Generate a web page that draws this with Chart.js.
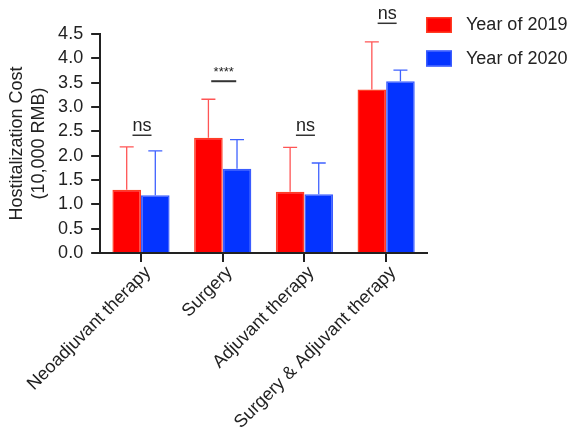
<!DOCTYPE html>
<html>
<head>
<meta charset="utf-8">
<script src="https://cdn.jsdelivr.net/npm/chart.js@4/dist/chart.umd.min.js"></script>
<style>
  html, body { margin: 0; padding: 0; background: #ffffff; }
  #wrap { width: 571px; height: 433px; }
</style>
</head>
<body>
<div id="wrap"><canvas id="c" width="571" height="433"></canvas></div>
<script>
// Treatment groups on the x axis
const categories = ['Neoadjuvant therapy', 'Surgery', 'Adjuvant therapy', 'Surgery & Adjuvant therapy'];
// Mean hospitalization cost (10,000 RMB)
const cost2019 = [1.30, 2.37, 1.26, 3.36];
const cost2020 = [1.19, 1.73, 1.21, 3.53];
// Standard deviations, drawn as upward error bars
const sd2019 = [0.88, 0.79, 0.91, 0.98];
const sd2020 = [0.91, 0.60, 0.64, 0.23];
// Significance marks between the two years and the level of their bracket line
const sigLabels = ['ns', '****', 'ns', 'ns'];
const sigLevels = [2.42, 3.53, 2.42, 4.72];
// Y axis range
const yMin = 0, yMax = 4.5, yStep = 0.5;
const seriesNames = ['Year of 2019', 'Year of 2020'];

const FONT = "'Liberation Sans', Arial, Helvetica, sans-serif";
const FS = 18;
const INK = '#222222';

// Upward error bars (mean + SD) with a cap
const errorBars = {
  id: 'errorBars',
  afterDatasetsDraw(chart) {
    const ctx = chart.ctx;
    const y = chart.scales.y;
    chart.data.datasets.forEach((ds, i) => {
      const meta = chart.getDatasetMeta(i);
      meta.data.forEach((bar, j) => {
        const top = y.getPixelForValue(ds.data[j] + ds.sd[j]);
        const base = y.getPixelForValue(ds.data[j]);
        ctx.save();
        ctx.strokeStyle = ds.errorColor;
        ctx.lineWidth = 1.3;
        ctx.beginPath();
        ctx.moveTo(bar.x, base);
        ctx.lineTo(bar.x, top);
        ctx.moveTo(bar.x - 7, top);
        ctx.lineTo(bar.x + 7, top);
        ctx.stroke();
        ctx.restore();
      });
    });
  }
};

// Significance labels with their underline bracket
const significance = {
  id: 'significance',
  afterDraw(chart) {
    const ctx = chart.ctx;
    const x = chart.scales.x, y = chart.scales.y;
    sigLabels.forEach((lab, j) => {
      const cx = x.getPixelForValue(j) + 1;
      const ly = y.getPixelForValue(sigLevels[j]);
      const stars = lab.indexOf('*') >= 0;
      ctx.save();
      ctx.fillStyle = INK;
      ctx.strokeStyle = '#333333';
      ctx.textAlign = 'center';
      ctx.textBaseline = 'alphabetic';
      ctx.font = (stars ? '13px ' : FS + 'px ') + FONT;
      const w = stars ? 25 : ctx.measureText(lab).width;
      ctx.fillText(lab, cx, stars ? ly - 5 : ly - 4);
      ctx.lineWidth = stars ? 2 : 1.5;
      ctx.beginPath();
      ctx.moveTo(cx - w / 2, ly);
      ctx.lineTo(cx + w / 2, ly);
      ctx.stroke();
      ctx.restore();
    });
  }
};

// Legend at the upper right
const sideLegend = {
  id: 'sideLegend',
  afterDraw(chart) {
    const ctx = chart.ctx;
    const left = chart.chartArea.right - 1;
    chart.data.datasets.forEach((ds, i) => {
      const top = 17 + i * 33.5;
      ctx.save();
      ctx.fillStyle = ds.backgroundColor;
      ctx.strokeStyle = ds.borderColor;
      ctx.lineWidth = 1.5;
      ctx.fillRect(left, top, 26, 16);
      ctx.strokeRect(left + 0.75, top + 0.75, 24.5, 14.5);
      ctx.fillStyle = INK;
      ctx.font = FS + 'px ' + FONT;
      ctx.textBaseline = 'middle';
      ctx.textAlign = 'left';
      ctx.fillText(ds.label, left + 40, top + 8.5);
      ctx.restore();
    });
  }
};

new Chart(document.getElementById('c'), {
  type: 'bar',
  data: {
    labels: categories,
    datasets: [
      {
        label: seriesNames[0],
        data: cost2019,
        sd: sd2019,
        backgroundColor: '#ff0000',
        borderColor: '#ff3d24',
        errorColor: '#ff5555',
        borderWidth: 1.5
      },
      {
        label: seriesNames[1],
        data: cost2020,
        sd: sd2020,
        backgroundColor: '#0433ff',
        borderColor: '#3a5cff',
        errorColor: '#3f62ff',
        borderWidth: 1.5
      }
    ]
  },
  options: {
    responsive: false,
    devicePixelRatio: 1,
    animation: false,
    layout: { padding: { left: 3, right: 144, top: 34, bottom: 0 } },
    datasets: { bar: { categoryPercentage: 0.7, barPercentage: 1.0 } },
    plugins: {
      legend: { display: false },
      tooltip: { enabled: false }
    },
    scales: {
      x: {
        grid: {
          offset: false,
          drawOnChartArea: false,
          drawTicks: true,
          tickLength: 9,
          color: INK,
          lineWidth: 2
        },
        border: { display: true, color: INK, width: 2 },
        ticks: {
          autoSkip: false,
          minRotation: 45,
          maxRotation: 45,
          padding: 0,
          labelOffset: 7,
          color: INK,
          font: { family: FONT, size: FS }
        }
      },
      y: {
        min: yMin,
        max: yMax,
        grid: {
          drawOnChartArea: false,
          drawTicks: true,
          tickLength: 9,
          color: INK,
          lineWidth: 2
        },
        border: { display: true, color: INK, width: 2 },
        ticks: {
          stepSize: yStep,
          autoSkip: false,
          padding: 8,
          color: INK,
          font: { family: FONT, size: FS },
          callback: v => Number(v).toFixed(1)
        },
        title: {
          display: true,
          text: ['Hostitalization Cost', '(10,000 RMB)'],
          color: INK,
          font: { family: FONT, size: FS, lineHeight: 1.17 },
          padding: { top: 4, bottom: 1 }
        }
      }
    }
  },
  plugins: [errorBars, significance, sideLegend]
});
</script>
</body>
</html>
